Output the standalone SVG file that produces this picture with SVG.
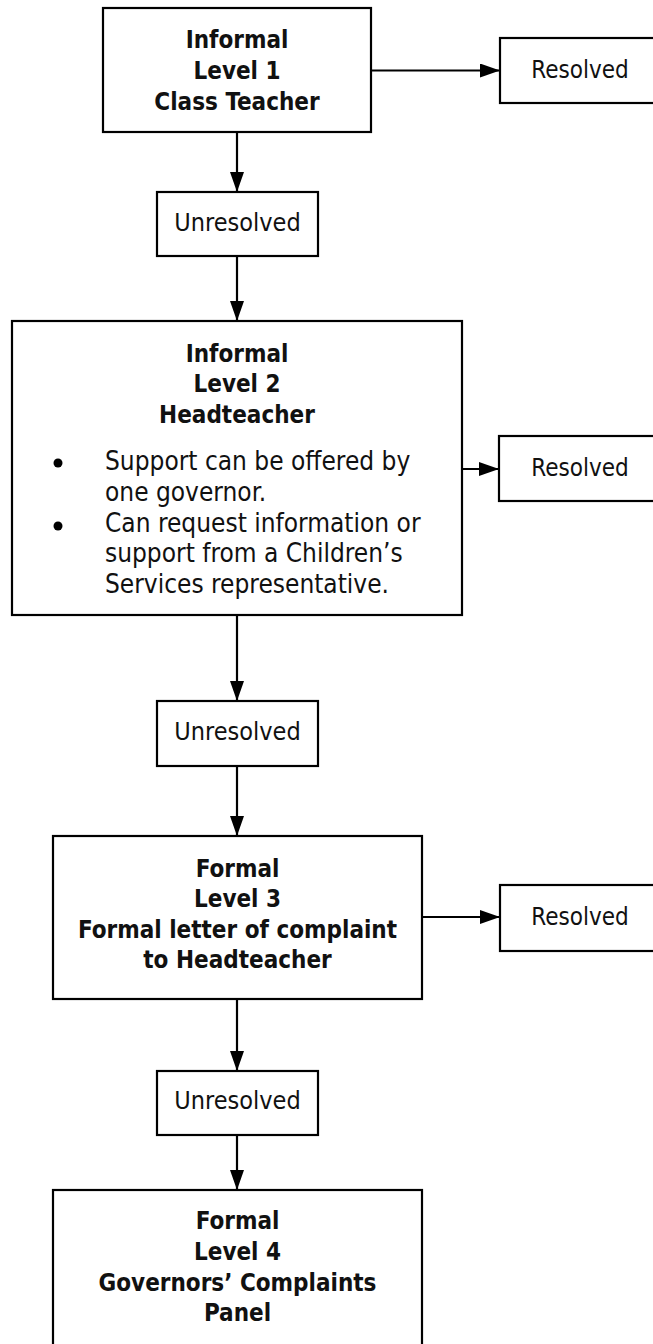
<svg xmlns="http://www.w3.org/2000/svg" width="653" height="1344" viewBox="0 0 653 1344">
<style>
.box{fill:#fff;stroke:#000;stroke-width:2.2}
.t{font-family:"DejaVu Sans Condensed","DejaVu Sans","Liberation Sans",sans-serif;font-size:24px;fill:#111}
.b{font-weight:bold}
.c{text-anchor:middle}
.u{font-size:25px}
.body{font-size:26px}
.conn line{stroke:#000;stroke-width:2.2;marker-end:url(#ah)}
</style>
<defs>
<marker id="ah" markerUnits="userSpaceOnUse" markerWidth="20" markerHeight="14" refX="20" refY="7" orient="auto">
<path d="M0,0 L20,7 L0,14 z" fill="#000"/>
</marker>
</defs>
<rect width="653" height="1344" fill="#fff"/>
<g id="connectors" class="conn">
<line x1="371" y1="70.5" x2="500" y2="70.5"/>
<line x1="237" y1="132" x2="237" y2="192"/>
<line x1="237" y1="256" x2="237" y2="321"/>
<line x1="462" y1="469" x2="499" y2="469"/>
<line x1="237" y1="615" x2="237" y2="701"/>
<line x1="237" y1="766" x2="237" y2="836"/>
<line x1="422" y1="917" x2="500" y2="917"/>
<line x1="237" y1="999" x2="237" y2="1071"/>
<line x1="237" y1="1135" x2="237" y2="1190"/>
</g>
<g id="level1">
<rect class="box" x="103" y="8" width="268" height="124"/>
<text class="t b c" x="237" y="48">Informal</text>
<text class="t b c" x="237" y="79">Level 1</text>
<text class="t b c" x="237" y="110">Class Teacher</text>
</g>
<g id="resolved1">
<rect class="box" x="500" y="38" width="170" height="65"/>
<text class="t c" x="580" y="78">Resolved</text>
</g>
<g id="unresolved1">
<rect class="box" x="157" y="192" width="161" height="64"/>
<text class="t u c" x="237.5" y="231">Unresolved</text>
</g>
<g id="level2">
<rect class="box" x="12" y="321" width="450" height="294"/>
<text class="t b c" x="237" y="362">Informal</text>
<text class="t b c" x="237" y="392">Level 2</text>
<text class="t b c" x="237" y="423">Headteacher</text>
<circle cx="58" cy="463" r="4.5" fill="#000"/>
<circle cx="58" cy="526" r="4.5" fill="#000"/>
<text class="t body" x="105" y="470">Support can be offered by</text>
<text class="t body" x="105" y="501">one governor.</text>
<text class="t body" x="105" y="532">Can request information or</text>
<text class="t body" x="105" y="562">support from a Children’s</text>
<text class="t body" x="105" y="593">Services representative.</text>
</g>
<g id="resolved2">
<rect class="box" x="499" y="436" width="170" height="65"/>
<text class="t c" x="580" y="476">Resolved</text>
</g>
<g id="unresolved2">
<rect class="box" x="157" y="701" width="161" height="65"/>
<text class="t u c" x="237.5" y="740">Unresolved</text>
</g>
<g id="level3">
<rect class="box" x="53" y="836" width="369" height="163"/>
<text class="t b c" x="237.5" y="877">Formal</text>
<text class="t b c" x="237.5" y="907">Level 3</text>
<text class="t b c" x="237.5" y="938">Formal letter of complaint</text>
<text class="t b c" x="237.5" y="968">to Headteacher</text>
</g>
<g id="resolved3">
<rect class="box" x="500" y="885" width="170" height="66"/>
<text class="t c" x="580" y="925">Resolved</text>
</g>
<g id="unresolved3">
<rect class="box" x="157" y="1071" width="161" height="64"/>
<text class="t u c" x="237.5" y="1109">Unresolved</text>
</g>
<g id="level4">
<rect class="box" x="53" y="1190" width="369" height="200"/>
<text class="t b c" x="237.5" y="1229">Formal</text>
<text class="t b c" x="237.5" y="1260">Level 4</text>
<text class="t b c" x="237.5" y="1291">Governors’ Complaints</text>
<text class="t b c" x="237.5" y="1321">Panel</text>
</g>
</svg>
